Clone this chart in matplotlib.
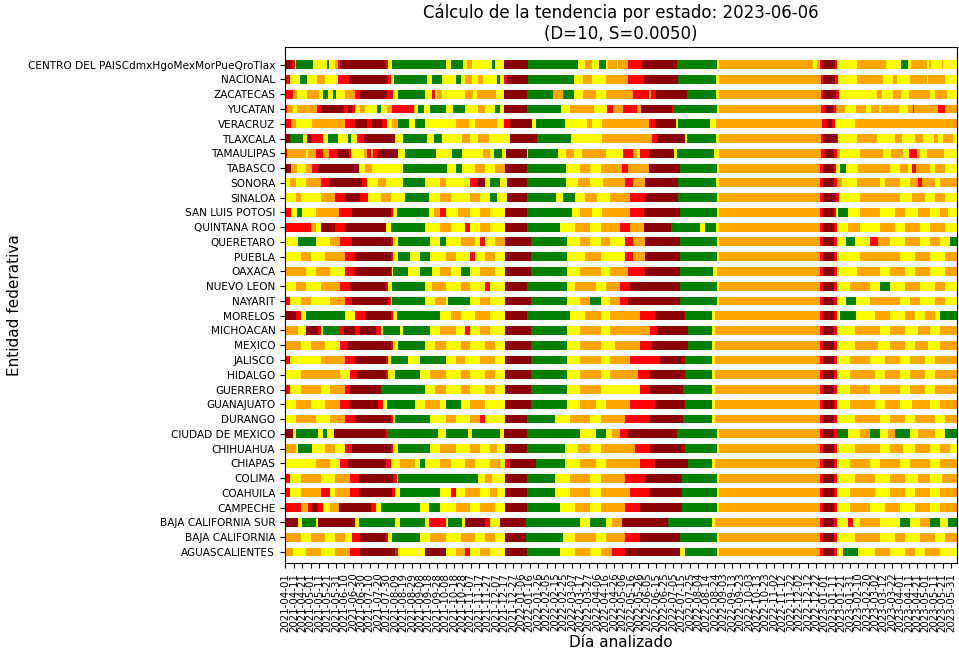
import datetime as dt
import numpy as np
import matplotlib
matplotlib.use("Agg")
import matplotlib.pyplot as plt

# fecha inicial y numero de dias analizados
inicio = dt.date(2021, 4, 1)
n_dias = 797

# estados (de abajo hacia arriba)
estados = ["AGUASCALIENTES", "BAJA CALIFORNIA", "BAJA CALIFORNIA SUR", "CAMPECHE",
           "COAHUILA", "COLIMA", "CHIAPAS", "CHIHUAHUA", "CIUDAD DE MEXICO",
           "DURANGO", "GUANAJUATO", "GUERRERO", "HIDALGO", "JALISCO", "MEXICO",
           "MICHOACAN", "MORELOS", "NAYARIT", "NUEVO LEON", "OAXACA", "PUEBLA",
           "QUERETARO", "QUINTANA ROO", "SAN LUIS POTOSI", "SINALOA", "SONORA",
           "TABASCO", "TAMAULIPAS", "TLAXCALA", "VERACRUZ", "YUCATAN",
           "ZACATECAS", "NACIONAL", "CENTRO DEL PAISCdmxHgoMexMorPueQroTlax"]

# tendencia: codigo de color + dia en que empieza el tramo
# g=baja fuerte, y=baja, o=estable, r=sube, d=sube fuerte
tendencia = [
    "o0 y9 o24 y42 o59 r77 d89 r130 y134 d166 y190 o202 r213 y219 o231 y243 d261 g287 y326 o344 y362 o374 r388 d403 y468 g474 y512 o515 r635 d638 r651 y655 g662 y680 o700 y718 o735 y747 o759 y777",
    "o0 y18 o30 y47 o59 y71 r79 d89 r119 y122 g127 y160 o172 y190 o208 y225 o237 y249 d261 g285 y329 o344 y368 o380 r403 d421 g468 y512 o515 r635 d638 r651 y655 o676 y706 o723 y735 o753 y771 o783",
    "d0 y15 g20 y36 d39 y83 g87 y130 g136 y166 r170 y190 g193 y210 d213 r237 y243 d255 g285 y350 g362 y380 o388 d400 g454 y506 o510 r635 d638 r651 y655 r668 y674 o682 y706 g729 y741 o753 g765 y777 g786",
    "r0 o18 r27 d32 r39 y44 o53 d63 r101 y107 g113 y160 g170 y184 o202 y219 o231 y249 d261 g287 y326 o344 y362 o374 r403 d421 g471 y512 o515 r635 d638 r651 y655 o670 y694 o712 y729 o747 y765 o777",
    "r0 y6 o18 r42 y53 o59 r77 d87 r127 y130 g136 y184 r196 y202 o213 y231 o243 y251 d261 g287 y320 o338 y362 o374 r409 d431 g471 y512 o515 r635 d638 r651 y655 o670 y700 o718 y735 o747 y765 o777",
    "r0 y6 o18 y42 o59 r77 d87 r128 y132 g134 y229 o237 y245 d261 g287 y320 o338 y362 o374 r403 d427 g471 y512 o515 r635 d638 r651 y655 o676 y700 o718 y735 o751 y765 o779",
    "y0 o36 y53 r65 d74 r119 y125 o136 y154 g160 y166 o184 y196 o213 y225 o243 y255 r261 d267 g297 y332 o350 y368 o380 r421 d439 g478 y506 o510 r635 d638 r651 y655 o670 y694 o706 y729 o741 y765 o777",
    "o0 y12 g15 y32 o47 y59 r71 d79 r125 y128 g133 y172 o184 y202 o219 y231 o243 y251 d261 g287 y332 o347 y362 o374 r415 d433 g474 y512 o515 r635 d638 r651 y655 o676 y706 o718 y733 o747 y765 o777 y789",
    "d0 y9 g13 y39 g44 y49 d58 r119 g122 y181 g190 y217 g222 y255 d259 g287 y350 g368 y380 o388 r397 d407 g465 y512 o515 r635 d638 r651 g656 y668 o682 g694 y706 o715 g723 y741 o751 y771 g783",
    "y0 o12 y36 o53 r71 d83 r125 y128 g130 y172 o190 y202 o219 r231 y237 d261 g287 y320 o338 y362 o374 r403 d433 g472 y506 o510 r635 d638 r651 y655 o676 y706 o718 y735 o747 y771 o783",
    "y0 o12 y30 o47 r65 d75 r110 y116 g120 y154 o166 y184 g190 y208 o219 y237 d261 g291 y334 o350 y368 o380 r409 d439 g474 y506 o510 r635 d638 r651 y655 o670 y700 o712 y729 o744 y765 o777",
    "r0 y6 o18 y42 o53 r71 d77 r113 g115 y166 o178 y190 o208 y219 o237 y249 d261 g291 y334 o350 y374 r421 d433 g472 y506 o510 r635 d638 r651 y655 o670 y694 o706 y729 o741 y759 o771",
    "y0 o18 y65 r77 d85 r119 y122 g130 y160 o172 y190 o208 y219 o237 y249 d261 g291 y334 o350 y374 o385 r419 d433 g474 y506 o510 r635 d638 r651 y655 o670 y700 o712 y729 o741 y759 o771",
    "r0 y6 o42 r71 d83 r119 y122 g125 y146 g160 y190 o202 y213 o231 y249 d261 g291 y334 o350 y374 o385 r409 d445 g474 y506 o510 r635 d638 r651 y655 o670 y694 o712 y729 o741 y759 o771",
    "o0 y18 o30 y47 r65 d74 r125 y128 g133 y166 o178 y190 o208 y219 o237 y249 d261 g291 y334 o350 y374 o391 r421 d435 g478 y506 o510 r635 d638 r651 y655 o676 y703 o718 y735 o747 y763 o777",
    "o0 y15 d24 r39 y42 g44 r65 d69 r83 d89 r107 y113 g116 y136 g140 y172 o184 y202 r213 y219 o231 y243 d261 g291 y334 o350 y374 o385 r433 d441 g478 y506 o510 r635 d638 r651 y655 o676 y706 o718 y735 o751 y765 o777",
    "d0 r12 y18 g24 y71 r83 d95 r125 y128 g132 y184 o196 y208 o225 y243 d261 g287 y338 o356 y374 o385 r421 d439 g474 y506 o510 r635 d638 r651 y655 g658 y677 o700 y718 o735 y747 o759 y771 g777",
    "r0 y6 o18 y30 o53 r71 d79 r122 y125 g127 y166 o178 y190 g193 y219 o231 y243 d261 g291 y334 o350 g362 y374 o385 r397 d407 g468 y512 o515 r635 d638 r651 y655 g665 y677 o694 y729 o741 y753 o771 y783",
    "y0 o12 y24 o42 r65 d77 r119 y122 g127 y166 o174 y190 o208 y219 r237 y243 d261 g287 y334 o344 y368 o380 r397 d409 g468 y512 o515 r635 d638 r651 y655 o670 y694 g706 y718 o735 y753 o771 y783",
    "o0 y24 o36 y53 r71 d83 r125 y127 g128 y146 g160 y174 o184 y196 g208 y219 o231 y249 d261 g291 y334 o350 y374 o385 r407 d427 g468 y508 o512 r635 d638 r651 y655 o678 y706 o718 y735 o747 y765 o783",
    "y0 o18 y30 o47 r71 d83 r125 y128 g133 y148 g160 y172 o190 y202 r219 y225 o237 y249 d261 g291 y334 o356 y374 r403 o412 d427 g468 y512 o515 r635 d638 r651 y655 o682 y729 o747 y765 o783",
    "y0 g15 y36 o53 r65 d79 r125 y128 g133 y172 g184 y190 o208 y225 r231 y237 o249 d261 g291 y334 o350 y362 o374 y385 r403 o412 d427 g468 y512 o515 r635 d638 r651 y655 g665 y676 r694 o703 y718 o735 y753 o765 y777 g789",
    "r0 o30 y36 d42 r59 d71 y119 g125 y166 o184 y196 r213 y219 o231 y243 d261 g287 y326 o344 y362 o374 r397 o409 d425 g457 y492 g498 y511 o514 r635 d638 r651 y655 o668 y682 o706 y723 o735 y753 o765 y783",
    "r0 y7 g14 y20 o36 r63 d79 r125 y128 g132 y170 o176 r184 y190 o205 y219 o231 y243 d261 g287 y340 o350 y364 o376 r409 d425 g468 y512 o515 r635 d638 r651 y653 g656 y668 o682 y706 o723 y735 o751 y765 o777 y786",
    "y0 o12 y18 o42 r59 d71 r89 y98 o113 y125 g142 y170 o184 y196 o219 y231 g243 y251 d263 g287 y321 g330 y344 o356 y370 o385 r409 d427 g466 y512 o515 r635 d638 r653 y657 o682 y729 o744 y759 o771 y783",
    "y0 o6 y12 o24 r42 d53 r91 y97 o110 y119 g139 y166 o184 y190 r219 d228 y237 g243 y255 d263 g287 y333 o347 y362 o377 r403 o412 d427 g466 y511 o514 r635 d638 r651 o655 y661 o678 y706 o712 y729 o741 r751 o755 y771 o777",
    "d0 o7 y14 o24 r32 d39 y87 o95 y103 g139 y192 g202 y210 o225 y237 o249 d261 g287 y333 o350 y362 o374 r400 o407 d431 g468 y512 o515 r635 d638 r651 y653 g658 y665 o680 y718 o729 y739 r744 o748 y765 o771 y783",
    "r0 o2 y24 o27 r36 o45 r52 d62 r75 y78 o93 r97 o101 r104 d110 y134 g142 y179 g198 y210 o234 y243 g248 y257 d262 y287 g288 y324 o333 y342 o352 y380 r401 o413 y417 r421 d431 y461 g465 y509 o514 r636 d640 r651 o655 y658 o682 y709 o719 y733 r740 o750 y753 o761 y782",
    "d0 g5 y21 r25 d27 r32 y45 g50 y62 g74 y78 r85 d93 y130 g139 y168 g176 y186 o210 y219 o228 y242 d266 g298 y339 o376 r435 d441 y474 g477 y511 o514 r636 d638 r655 y656 o678 y702 o723 y732 o747 y757 o770 y774 o780 y792",
    "r0 o7 y13 o31 r71 d83 r97 d103 r115 y121 o127 g133 y147 g154 y166 o202 y218 o225 y251 r259 d267 y293 g297 y332 o358 y364 o376 r431 d439 y463 g466 y504 o511 r637 d643 r649 y652 o676",
    "r0 o2 y9 o14 r38 d42 r69 d74 r79 y82 o89 y95 g109 y113 o121 r126 o152 y154 g157 y164 g171 y191 g199 y213 o228 y237 g249 y255 d259 g287 y327 o338 y366 r382 o389 r401 o417 d422 r459 g460 y512 o515 r636 d642 r650 o653 y664 o677 y689 o695 y704 o707 y728 o739 r745 o746 r774 o783",
    "r0 o9 y14 o26 y40 g45 y50 g57 y60 o71 r83 d89 r120 y128 g133 y166 r174 y178 o180 y186 o213 y223 o227 y250 d259 g287 o318 g330 y342 o353 y368 o380 r413 o432 r434 d440 g476 y511 o515 r636 d638 r653 y657 o702 y708 o721 y731 o740 y765 o771 y785",
    "r0 y6 g17 y25 o38 y47 r62 d76 r121 y125 g129 y168 g174 y186 g202 y208 o213 y222 o228 y235 g251 y255 r259 d263 g288 y342 o353 y364 o381 r407 d425 g466 y511 o514 r636 d638 r652 y656 o678 y709 o721 y726 o741 y761 o763 y783",
    "d0 r8 y11 g12 y33 g49 y52 o59 r62 d65 r119 y122 g126 y190 g197 y211 o215 y222 g245 y249 d259 g288 y347 o355 y364 g372 y380 o383 y393 o395 r406 d423 g465 y512 o515 y626 o631 r635 d637 r652 y655 o678 y713 g731 y739 o742 y761 o764 y766 o779 y780",
]

colores = {"g": "green", "y": "yellow", "o": "orange", "r": "red", "d": "darkred"}

fig = plt.figure(figsize=(9.59, 6.52), dpi=100)
ax = fig.add_subplot(111)
fig.subplots_adjust(left=0.2972, right=0.9979, top=0.9279, bottom=0.1365)

for i, cadena in enumerate(tendencia):
    toks = cadena.split()
    inicios = np.array([int(t[1:]) for t in toks])
    fines = np.append(inicios[1:], n_dias)
    ax.barh(i, fines - inicios, left=inicios, height=0.6,
            color=[colores[t[0]] for t in toks], linewidth=0)

ax.set_yticks(range(len(estados)))
ax.set_yticklabels(estados, fontsize=7.6)
ax.set_ylim(-0.75, len(estados) - 1 + 1.2)

# etiquetas cada 10 dias
ticks = np.arange(0, n_dias, 10)
etiquetas = [(inicio + dt.timedelta(days=int(d))).strftime("%Y-%m-%d") for d in ticks]
ax.set_xticks(ticks)
ax.set_xticklabels(etiquetas, rotation=90, fontsize=7.4)
ax.set_xlim(-0.5, n_dias)

ax.set_xlabel("Día analizado", fontsize=11, labelpad=2)
ax.set_ylabel("Entidad federativa", fontsize=11)
ax.set_title("Cálculo de la tendencia por estado: 2023-06-06\n(D=10, S=0.0050)", fontsize=12)

fig.savefig("out.png", dpi=100)
